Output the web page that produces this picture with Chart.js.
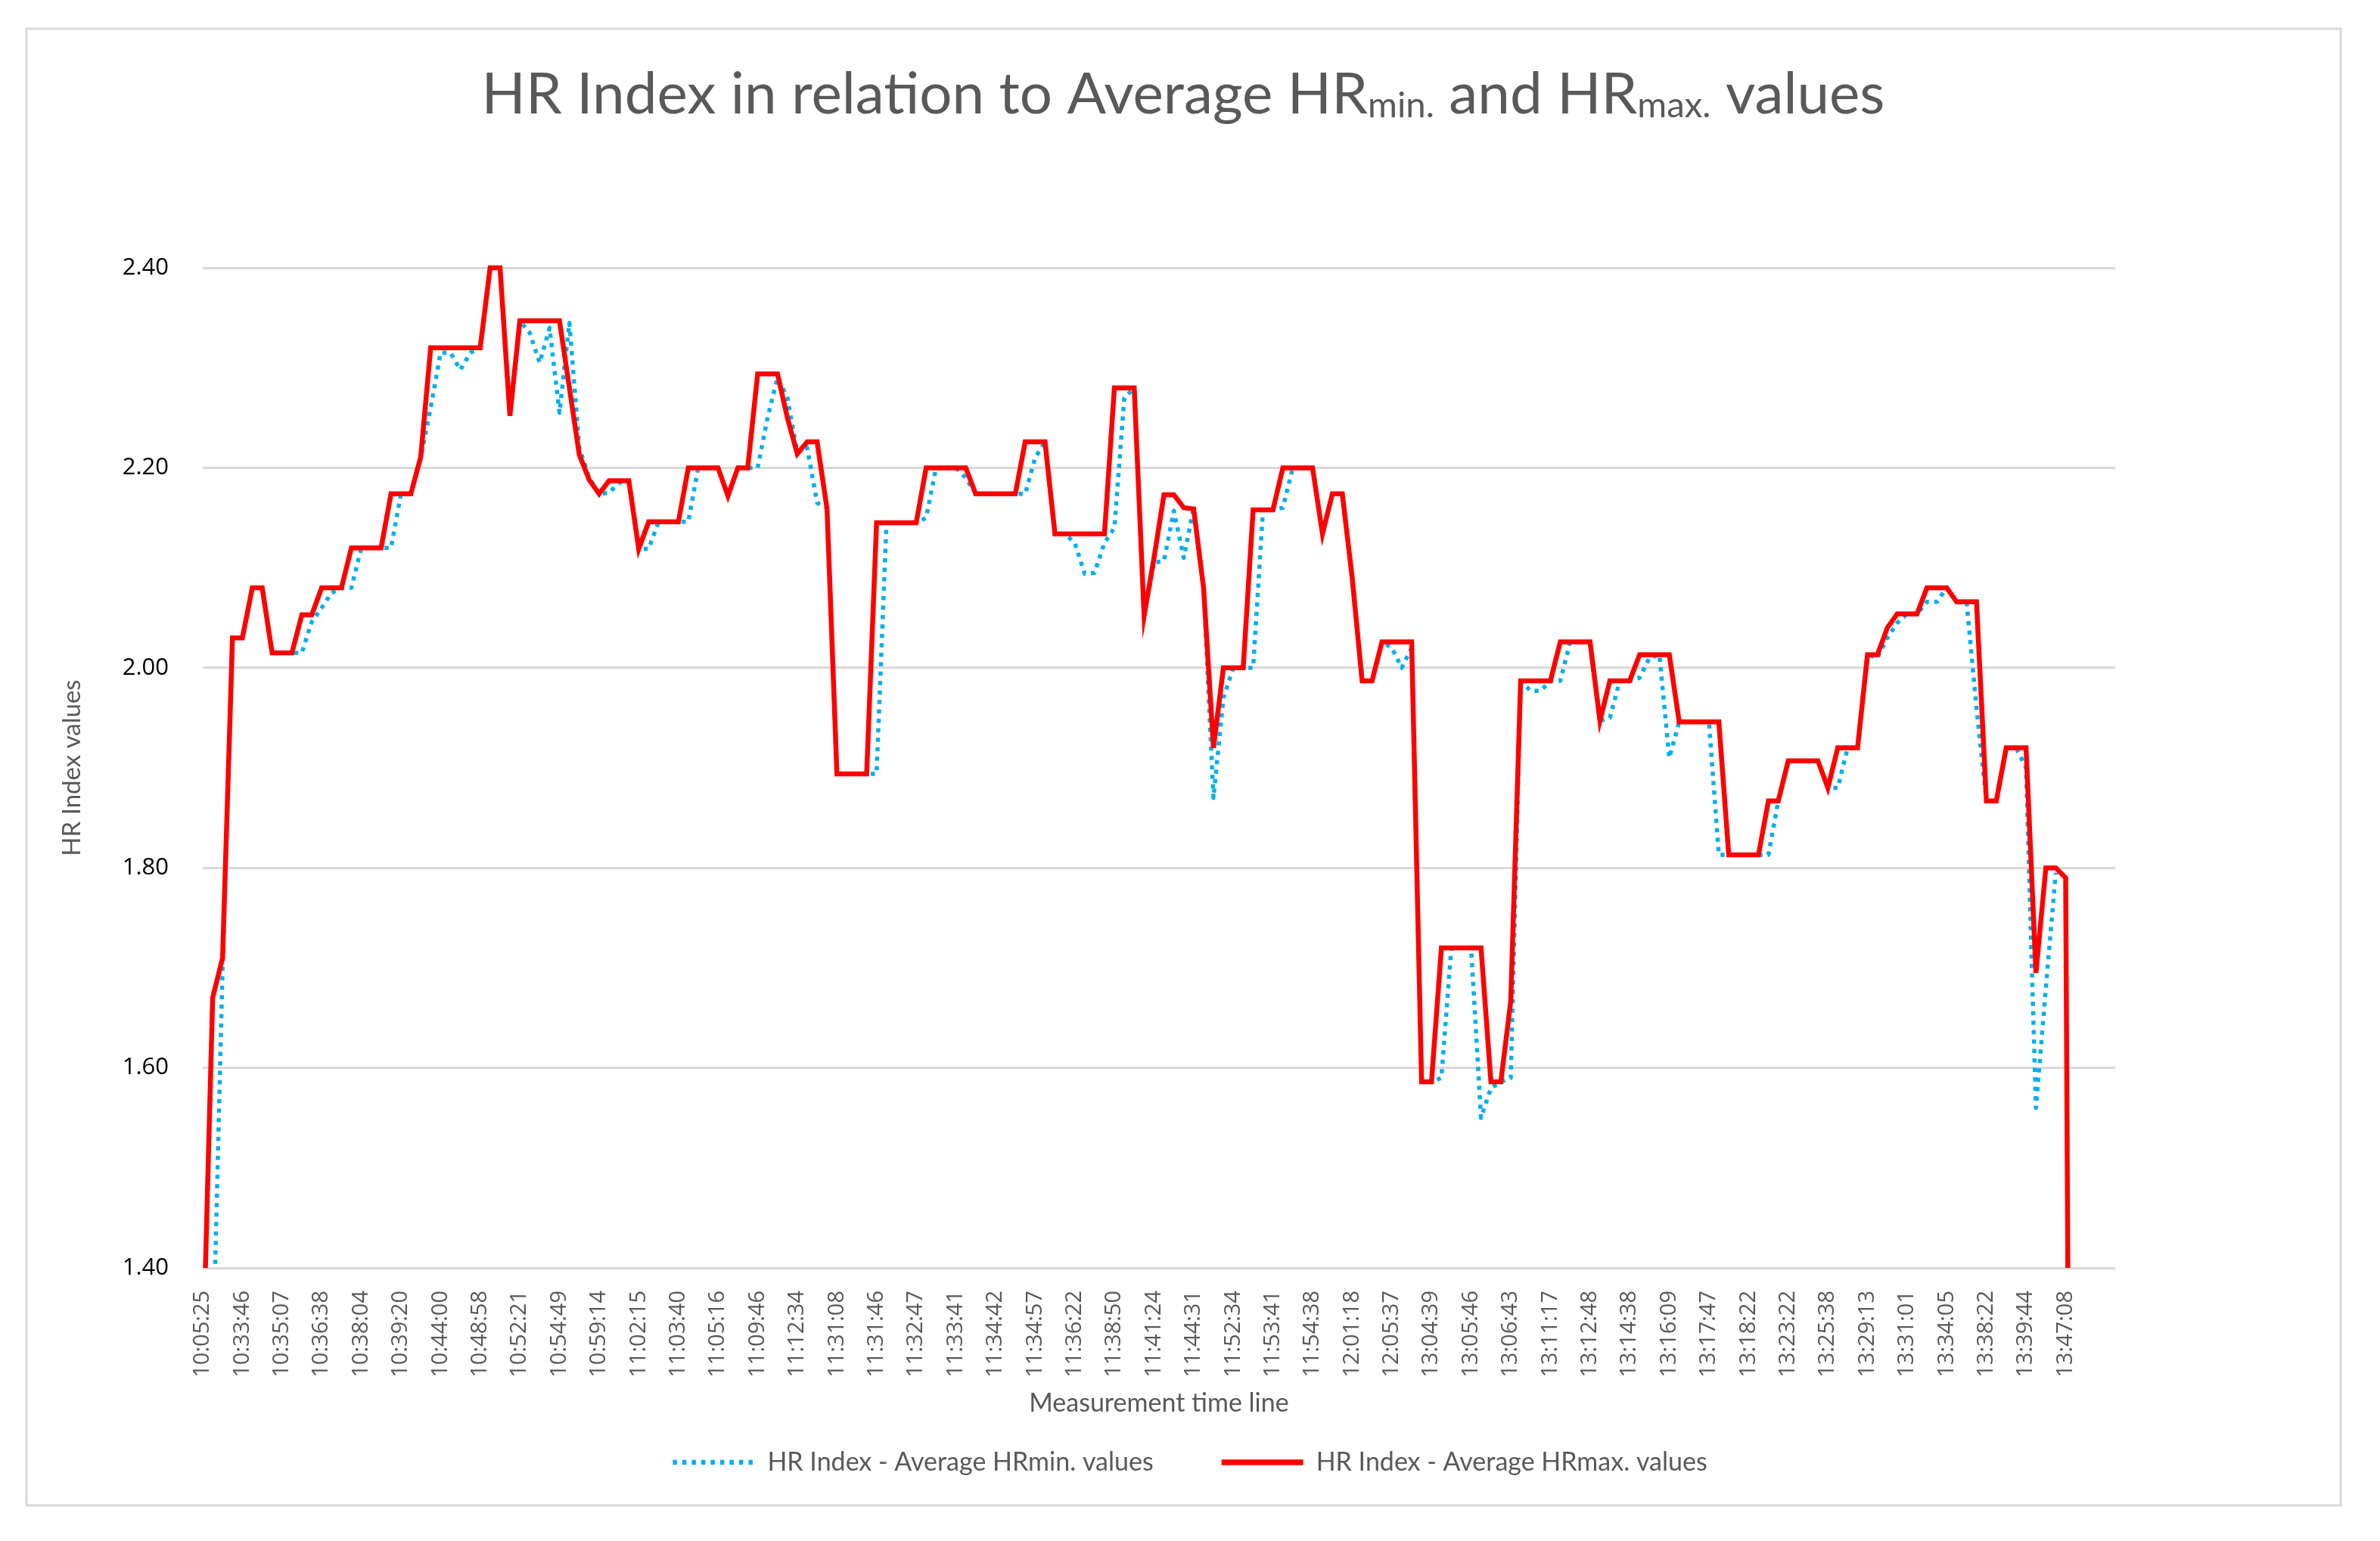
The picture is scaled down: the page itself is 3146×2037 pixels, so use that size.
<!DOCTYPE html>
<html><head><meta charset="utf-8">
<script src="https://cdn.jsdelivr.net/npm/chart.js@4.4.1/dist/chart.umd.min.js"></script>
<style>html,body{margin:0;padding:0;background:#fff;}canvas{display:block;}</style>
</head><body>
<canvas id="c" width="3146" height="2037"></canvas>
<script>
// Time labels shown on the x axis (every 4th measurement)
const tickLabels = ['10:05:25','10:33:46','10:35:07','10:36:38','10:38:04','10:39:20','10:44:00','10:48:58',
  '10:52:21','10:54:49','10:59:14','11:02:15','11:03:40','11:05:16','11:09:46','11:12:34','11:31:08','11:31:46',
  '11:32:47','11:33:41','11:34:42','11:34:57','11:36:22','11:38:50','11:41:24','11:44:31','11:52:34','11:53:41',
  '11:54:38','12:01:18','12:05:37','13:04:39','13:05:46','13:06:43','13:11:17','13:12:48','13:14:38','13:16:09',
  '13:17:47','13:18:22','13:23:22','13:25:38','13:29:13','13:31:01','13:34:05','13:38:22','13:39:44','13:47:08'];

// HR Index - Average HRmin. values (one value per measurement)
const hrMinValues = [null,
  1.30,1.70,2.03,2.03,2.08,2.08,2.015,2.015,2.015,2.015,
  2.046,2.06,2.075,2.08,2.08,2.12,2.12,2.12,2.12,2.174,
  2.174,2.21,2.26,2.315,2.315,2.298,2.315,2.32,2.40,2.40,
  2.252,2.347,2.335,2.305,2.34,2.255,2.345,2.22,2.19,2.174,
  2.175,2.185,2.187,2.119,2.119,2.146,2.146,2.146,2.146,2.20,
  2.20,2.20,2.172,2.20,2.20,2.20,2.25,2.29,2.27,2.215,
  2.22,2.165,2.16,1.894,1.894,1.894,1.894,1.894,2.145,2.145,
  2.145,2.145,2.15,2.20,2.20,2.20,2.19,2.174,2.174,2.174,
  2.174,2.174,2.174,2.21,2.226,2.134,2.134,2.125,2.094,2.095,
  2.125,2.14,2.27,2.28,2.052,2.105,2.107,2.157,2.11,2.16,
  2.08,1.87,1.97,2.00,2.00,2.00,2.158,2.158,2.16,2.20,
  2.20,2.20,2.134,2.174,2.174,2.09,1.987,1.987,2.026,2.02,
  2.00,2.02,1.586,1.586,1.59,1.72,1.72,1.72,1.55,1.58,
  1.586,1.59,1.987,1.977,1.977,1.987,1.987,2.026,2.026,2.026,
  1.947,1.95,1.987,1.987,1.99,2.01,2.013,1.91,1.946,1.946,
  1.946,1.946,1.813,1.813,1.813,1.813,1.813,1.813,1.867,1.907,
  1.907,1.907,1.907,1.880,1.880,1.920,1.920,2.013,2.01,2.03,
  2.045,2.054,2.054,2.066,2.066,2.08,2.066,2.066,1.96,1.867,
  1.867,1.920,1.920,1.90,1.56,1.68,1.795,null,
  null,null,null,null,null];

// HR Index - Average HRmax. values (one value per measurement)
const hrMaxValues = [1.30,
  1.67,1.71,2.03,2.03,2.08,2.08,2.015,2.015,2.015,2.053,
  2.053,2.08,2.08,2.08,2.12,2.12,2.12,2.12,2.174,2.174,
  2.174,2.211,2.32,2.32,2.32,2.32,2.32,2.32,2.40,2.40,
  2.252,2.347,2.347,2.347,2.347,2.347,2.28,2.213,2.188,2.174,
  2.187,2.187,2.187,2.119,2.146,2.146,2.146,2.146,2.20,2.20,
  2.20,2.20,2.172,2.20,2.20,2.294,2.294,2.294,2.25,2.214,
  2.226,2.226,2.159,1.894,1.894,1.894,1.894,2.145,2.145,2.145,
  2.145,2.145,2.20,2.20,2.20,2.20,2.20,2.174,2.174,2.174,
  2.174,2.174,2.226,2.226,2.226,2.134,2.134,2.134,2.134,2.134,
  2.134,2.28,2.28,2.28,2.052,2.11,2.173,2.173,2.16,2.159,
  2.08,1.92,2.00,2.00,2.00,2.158,2.158,2.158,2.20,2.20,
  2.20,2.20,2.134,2.174,2.174,2.09,1.987,1.987,2.026,2.026,
  2.026,2.026,1.586,1.586,1.72,1.72,1.72,1.72,1.72,1.586,
  1.586,1.667,1.987,1.987,1.987,1.987,2.026,2.026,2.026,2.026,
  1.947,1.987,1.987,1.987,2.013,2.013,2.013,2.013,1.946,1.946,
  1.946,1.946,1.946,1.813,1.813,1.813,1.813,1.867,1.867,1.907,
  1.907,1.907,1.907,1.880,1.920,1.920,1.920,2.013,2.013,2.04,
  2.054,2.054,2.054,2.08,2.08,2.08,2.066,2.066,2.066,1.867,
  1.867,1.920,1.920,1.920,1.695,1.80,1.80,1.79,
  0,null,null,null,null];

const POINTS_PER_LABEL = 4;
const categories = hrMaxValues.map((_, i) =>
  (i % POINTS_PER_LABEL === 0 && i / POINTS_PER_LABEL < tickLabels.length) ? tickLabels[i / POINTS_PER_LABEL] : '');

const seriesNames = ['HR Index - Average HRmin. values', 'HR Index - Average HRmax. values'];
const titleParts = [
  {text: 'HR Index in relation to Average HR', sub: false},
  {text: 'min.', sub: true},
  {text: ' and HR', sub: false},
  {text: 'max.', sub: true},
  {text: ' values', sub: false}
];

const GREY = '#595959';

const framePlugin = {
  id: 'frame',
  beforeDraw(c) {
    const ctx = c.ctx;
    ctx.save();
    ctx.fillStyle = '#ffffff';
    ctx.fillRect(0, 0, c.width, c.height);
    ctx.strokeStyle = '#D9D9D9';
    ctx.lineWidth = 3;
    ctx.strokeRect(35, 38, 3059, 1952);
    ctx.restore();
  }
};

const titlePlugin = {
  id: 'richTitle',
  afterDraw(c) {
    const ctx = c.ctx;
    const family = 'Lato, "Open Sans", sans-serif';
    const targetWidth = 1855;
    const subRatio = 0.62;
    const measure = (size) => {
      let w = 0;
      titleParts.forEach(p => {
        ctx.font = `${p.sub ? size * subRatio : size}px ${family}`;
        w += ctx.measureText(p.text).width;
      });
      return w;
    };
    ctx.save();
    let size = 76;
    size = size * targetWidth / measure(size);
    const total = measure(size);
    let x = 1564 - total / 2;
    const baseY = 150;
    ctx.fillStyle = GREY;
    ctx.textBaseline = 'alphabetic';
    ctx.textAlign = 'left';
    for (const p of titleParts) {
      ctx.font = `${p.sub ? size * subRatio : size}px ${family}`;
      ctx.fillText(p.text, x, p.sub ? baseY + size * 0.06 : baseY);
      x += ctx.measureText(p.text).width;
    }
    ctx.restore();
  }
};

new Chart(document.getElementById('c'), {
  type: 'line',
  data: {
    labels: categories,
    datasets: [
      {
        label: seriesNames[0],
        data: hrMinValues,
        borderColor: '#00B0F0',
        backgroundColor: '#00B0F0',
        borderWidth: 5.5,
        borderDash: [5.5, 7],
        borderCapStyle: 'butt',
        borderJoinStyle: 'round',
        pointRadius: 0,
        pointHoverRadius: 0,
        tension: 0,
        fill: false,
        order: 2,
        clip: {left: 3, top: 4, right: 3, bottom: 0}
      },
      {
        label: seriesNames[1],
        data: hrMaxValues,
        borderColor: '#FF0000',
        backgroundColor: '#FF0000',
        borderWidth: 6.5,
        borderCapStyle: 'butt',
        borderJoinStyle: 'miter',
        pointRadius: 0,
        pointHoverRadius: 0,
        tension: 0,
        fill: false,
        order: 1,
        clip: {left: 3, top: 4, right: 3, bottom: 0}
      }
    ]
  },
  options: {
    responsive: false,
    animation: false,
    devicePixelRatio: 1,
    layout: {padding: {top: 354, bottom: 77, left: 40, right: 40}},
    plugins: {
      legend: {
        position: 'bottom',
        labels: {
          usePointStyle: true,
          pointStyle: 'line',
          pointStyleWidth: 108,
          padding: 90,
          color: GREY,
          font: {family: 'Lato', size: 34},
          sort: (a, b) => a.datasetIndex - b.datasetIndex,
          generateLabels: (chart) => {
            const items = Chart.defaults.plugins.legend.labels.generateLabels(chart);
            items.forEach(it => {
              const ds = chart.data.datasets[it.datasetIndex];
              it.lineDash = ds.borderDash || [];
              it.lineCap = ds.borderCapStyle;
              it.lineWidth = ds.borderWidth + 1;
              it.strokeStyle = ds.borderColor;
              it.fillStyle = ds.borderColor;
              it.pointStyle = 'line';
            });
            return items;
          }
        }
      },
      title: {display: false},
      tooltip: {enabled: false}
    },
    scales: {
      x: {
        grid: {display: false, drawTicks: false},
        border: {display: false},
        ticks: {
          autoSkip: false,
          minRotation: 90,
          maxRotation: 90,
          padding: 30,
          color: GREY,
          font: {family: 'Open Sans', size: 29}
        },
        title: {
          display: true,
          text: 'Measurement time line',
          color: GREY,
          font: {family: 'Lato', size: 34},
          padding: {top: 0, bottom: -49}
        },
        afterFit: s => { s.height = 150; }
      },
      y: {
        min: 1.4,
        max: 2.4,
        ticks: {
          stepSize: 0.2,
          padding: 45,
          color: '#000000',
          font: {family: 'Open Sans', size: 31},
          callback: v => Number(v).toFixed(2)
        },
        grid: {color: '#D9D9D9', lineWidth: 3, drawTicks: false},
        border: {display: false},
        title: {
          display: true,
          text: 'HR Index values',
          color: GREY,
          font: {family: 'Lato', size: 33},
          padding: {top: 36, bottom: 0}
        },
        afterFit: s => { s.width = 228; }
      },
      yPad: {
        position: 'right',
        display: true,
        grid: {display: false, drawTicks: false},
        border: {display: false},
        ticks: {display: false},
        afterFit: s => { s.width = 310; }
      }
    }
  },
  plugins: [framePlugin, titlePlugin]
});
</script>
</body></html>
